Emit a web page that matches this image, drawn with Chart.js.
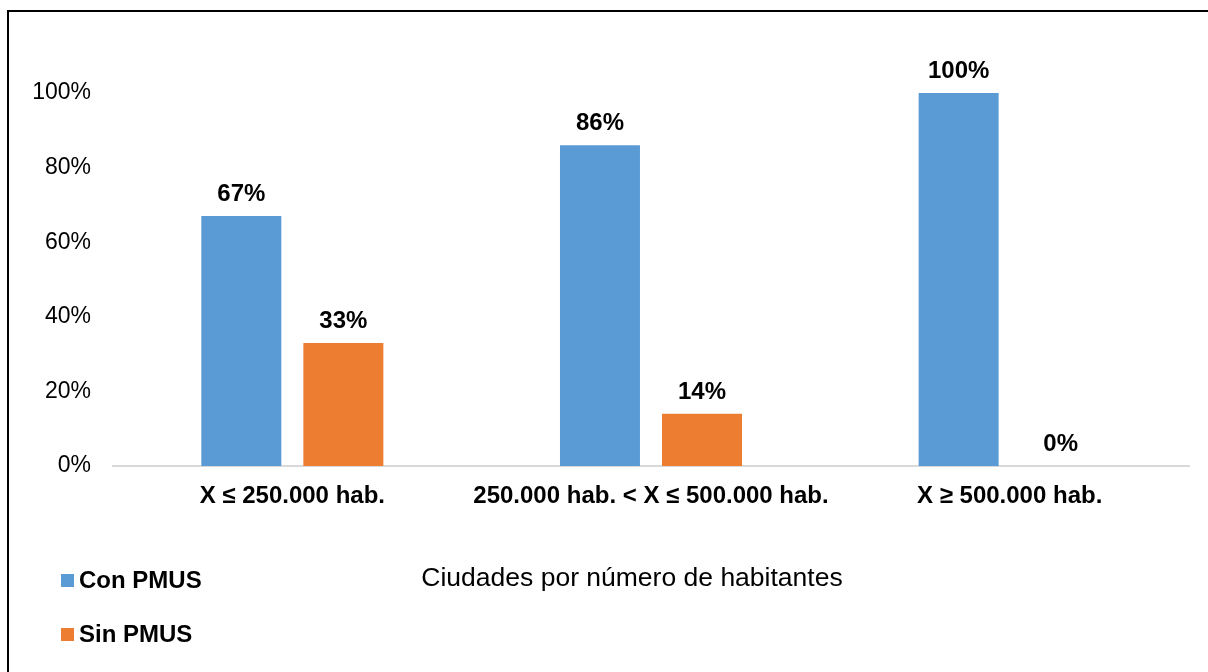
<!DOCTYPE html>
<html>
<head>
<meta charset="utf-8">
<script src="https://cdn.jsdelivr.net/npm/chart.js@4"></script>
<style>
  html, body { margin: 0; padding: 0; background: #fff; overflow: hidden; }
  .frame { position: absolute; left: 7px; top: 10px; width: 1300px; height: 800px; border: 2px solid #000; }
  .wrap { position: absolute; left: 0; top: 0; width: 1208px; height: 672px; }
</style>
</head>
<body>
<div class="frame"></div>
<div class="wrap"><canvas id="chart" width="1208" height="672"></canvas></div>
<script>
        // Datos
        const categories = ['X \u2264 250.000 hab.', '250.000 hab. < X \u2264 500.000 hab.', 'X \u2265 500.000 hab.'];
        const conPmus = [0.67, 0.86, 1.00];
        const sinPmus = [0.33, 0.14, 0.00];
        const seriesNames = ['Con PMUS', 'Sin PMUS'];
        const axisTitle = 'Ciudades por número de habitantes';

        const FONT = "'Liberation Sans', Arial, sans-serif";

        // Etiquetas de datos sobre las barras
        const dataLabels = {
            id: 'dataLabels',
            afterDatasetsDraw(chart) {
                const ctx = chart.ctx;
                ctx.save();
                ctx.font = 'bold 24px ' + FONT;
                ctx.fillStyle = '#000';
                ctx.textAlign = 'center';
                ctx.textBaseline = 'alphabetic';
                chart.data.datasets.forEach((ds, i) => {
                    chart.getDatasetMeta(i).data.forEach((bar, j) => {
                        ctx.fillText(Math.round(ds.data[j] * 100) + '%', bar.x, bar.y - 15);
                    });
                });
                ctx.restore();
            }
        };

        // Leyenda vertical y título del eje
        const sideLegend = {
            id: 'sideLegend',
            afterDraw(chart) {
                const ctx = chart.ctx;
                ctx.save();
                const rows = [581, 635];
                chart.data.datasets.forEach((ds, i) => {
                    ctx.fillStyle = ds.backgroundColor;
                    ctx.fillRect(61, rows[i] - 7, 13, 13);
                    ctx.fillStyle = '#000';
                    ctx.font = 'bold 24px ' + FONT;
                    ctx.textAlign = 'left';
                    ctx.textBaseline = 'middle';
                    ctx.fillText(ds.label, 79, rows[i]);
                });
                ctx.font = '26.5px ' + FONT;
                ctx.fillStyle = '#000';
                ctx.textAlign = 'center';
                ctx.textBaseline = 'middle';
                ctx.fillText(axisTitle, 632, 579);
                ctx.restore();
            }
        };

        const ctx = document.getElementById('chart').getContext('2d');
        const chart = new Chart(ctx, {
            type: 'bar',
            data: {
                labels: categories,
                datasets: [{
                    label: seriesNames[0],
                    data: conPmus,
                    backgroundColor: '#5B9BD5'
                }, {
                    label: seriesNames[1],
                    data: sinPmus,
                    backgroundColor: '#ED7D31'
                }]
            },
            options: {
                responsive: false,
                animation: false,
                categoryPercentage: 0.569,
                barPercentage: 0.784,
                layout: { padding: { top: 93, left: 0, right: 19, bottom: 0 } },
                plugins: {
                    legend: { display: false },
                    tooltip: { enabled: false }
                },
                scales: {
                    x: {
                        grid: { display: false, drawTicks: false },
                        border: { display: true, color: '#d9d9d9', width: 2 },
                        ticks: {
                            color: '#000',
                            padding: 16,
                            maxRotation: 0,
                            font: { family: FONT, size: 24, weight: 'bold' }
                        },
                        afterFit: s => { s.height = 206; }
                    },
                    y: {
                        min: 0,
                        max: 1,
                        grid: { display: false, drawTicks: false },
                        border: { display: false },
                        ticks: {
                            stepSize: 0.2,
                            color: '#000',
                            padding: 22,
                            font: { family: FONT, size: 23 },
                            callback: v => Math.round(v * 100) + '%'
                        },
                        afterFit: s => { s.width = 113; }
                    }
                }
            },
            plugins: [dataLabels, sideLegend]
        });
</script>
</body>
</html>
